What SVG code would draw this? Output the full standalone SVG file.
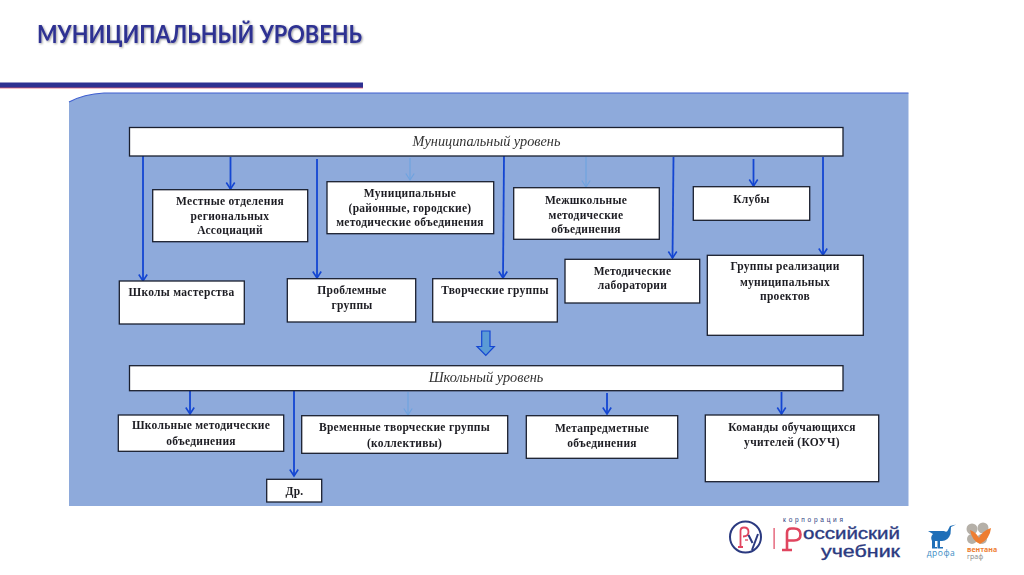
<svg xmlns="http://www.w3.org/2000/svg" width="1024" height="575" viewBox="0 0 1024 575">
<defs>
<style>
.box{fill:#fff;stroke:#1a1f2e;stroke-width:1.3}
.t{font-family:"Liberation Serif",serif;font-weight:bold;font-size:11.5px;fill:#1c1c22;text-anchor:middle;letter-spacing:.28px;filter:url(#soft)}
.i{font-family:"Liberation Serif",serif;font-style:italic;font-size:14.3px;fill:#333;text-anchor:middle;filter:url(#soft)}
.c{fill:none;stroke:#1446d2;stroke-width:1.8;marker-end:url(#a)}
.l{fill:none;stroke:#6fa3e0;stroke-width:1.2;marker-end:url(#b)}
.lg{font-family:"Liberation Sans",sans-serif;fill:#2b3a80}
</style>
<filter id="soft" x="-5%" y="-20%" width="110%" height="140%"><feGaussianBlur stdDeviation="0.3"/></filter>
<filter id="sh" x="-5%" y="-20%" width="110%" height="150%"><feGaussianBlur stdDeviation="0.3" result="s"/><feDropShadow in="s" dx="1" dy="1" stdDeviation="0.8" flood-color="#000" flood-opacity=".4"/></filter>
<marker id="a" markerUnits="userSpaceOnUse" markerWidth="10" markerHeight="12" refX="8" refY="6" orient="auto" viewBox="0 0 10 12"><path d="M1.500 1.800L8 6L1.500 10.200" fill="none" stroke="#1446d2" stroke-width="1.600"/></marker>
<marker id="b" markerUnits="userSpaceOnUse" markerWidth="10" markerHeight="12" refX="8" refY="6" orient="auto" viewBox="0 0 10 12"><path d="M1.500 1.800L8 6L1.500 10.200" fill="none" stroke="#6fa3e0" stroke-width="1.200"/></marker>
</defs>
<rect width="1024" height="575" fill="#fff"/>
<text x="37" y="43" font-family="Lato,Open Sans,sans-serif" font-weight="bold" font-size="24px" fill="#2e3192" filter="url(#sh)" textLength="325" lengthAdjust="spacingAndGlyphs">МУНИЦИПАЛЬНЫЙ УРОВЕНЬ</text>
<rect x="0" y="82.500" width="363" height="5.500" fill="#2e3192"/>
<rect x="0" y="87.600" width="363" height=".8" fill="#e06070"/>
<path d="M69 102 Q84 94 104 93 H908.500 V506 H69Z" fill="#8eaadb"/>
<path d="M69 102 Q84 94 104 93 H908.500" fill="none" stroke="#3f5fd0" stroke-width="1.200"/>

<g id="connectors">
<path class="c" d="M143 156V281"/>
<path class="c" d="M230.500 157V189"/>
<path class="c" d="M317 159V278"/>
<path class="l" d="M410 158V180"/>
<path class="c" d="M504 156L503 278"/>
<path class="l" d="M586 157V187"/>
<path class="c" d="M673.500 157L672.500 258"/>
<path class="c" d="M753.500 159V186"/>
<path class="c" d="M823 157V255"/>
<path class="c" d="M190 391V414"/>
<path class="c" d="M294 391V476"/>
<path class="l" d="M408 392V415"/>
<path class="c" d="M607 393V414"/>
<path class="c" d="M781.500 392V414"/>
</g>

<g id="arrow-down"><path d="M481.700 331H490V346.500H494.300L485.800 355.500L477 346.500H481.700Z" fill="#5b9bd5" stroke="#1446d2" stroke-width="1.200"/></g>

<g id="n-mun"><rect class="box" x="129.500" y="127.500" width="713.500" height="28.500"/><text class="i" x="486.500" y="146">Муниципальный уровень</text></g>
<g id="n-assoc"><rect class="box" x="152.700" y="189.700" width="155" height="52"/><text class="t" x="230" y="205">Местные отделения</text><text class="t" x="230" y="219.500">региональных</text><text class="t" x="230" y="234">Ассоциаций</text></g>
<g id="n-moe"><rect class="box" x="327" y="181.700" width="166.700" height="52"/><text class="t" x="410" y="197">Муниципальные</text><text class="t" x="410" y="211.500">(районные, городские)</text><text class="t" x="410" y="226">методические объединения</text></g>
<g id="n-inter"><rect class="box" x="513.700" y="187.700" width="145.600" height="51.600"/><text class="t" x="586" y="204">Межшкольные</text><text class="t" x="586" y="219">методические</text><text class="t" x="586" y="233">объединения</text></g>
<g id="n-clubs"><rect class="box" x="693.300" y="186.700" width="116.400" height="33.600"/><text class="t" x="751.500" y="202.500">Клубы</text></g>
<g id="n-schools"><rect class="box" x="119.300" y="281" width="125" height="43"/><text class="t" x="181.500" y="296">Школы мастерства</text></g>
<g id="n-problem"><rect class="box" x="287.300" y="278.700" width="128.400" height="43.300"/><text class="t" x="352" y="294">Проблемные</text><text class="t" x="352" y="309">группы</text></g>
<g id="n-creative"><rect class="box" x="432.700" y="278.700" width="124.600" height="43.300"/><text class="t" x="495" y="294">Творческие группы</text></g>
<g id="n-labs"><rect class="box" x="565" y="259.300" width="134.700" height="43.700"/><text class="t" x="632.500" y="275">Методические</text><text class="t" x="632.500" y="289">лаборатории</text></g>
<g id="n-projects"><rect class="box" x="707.300" y="255.300" width="156" height="80"/><text class="t" x="785" y="270">Группы реализации</text><text class="t" x="785" y="286">муниципальных</text><text class="t" x="785" y="300">проектов</text></g>

<g id="n-school"><rect class="box" x="129.500" y="365.700" width="713.500" height="25"/><text class="i" x="486" y="382">Школьный уровень</text></g>
<g id="n-smo"><rect class="box" x="118.300" y="415" width="165.400" height="36.300"/><text class="t" x="201" y="429">Школьные методические</text><text class="t" x="201" y="445">объединения</text></g>
<g id="n-temp"><rect class="box" x="301.700" y="415.700" width="206" height="37.600"/><text class="t" x="404.500" y="431">Временные творческие группы</text><text class="t" x="404.500" y="447">(коллективы)</text></g>
<g id="n-other"><rect class="box" x="266.700" y="479.300" width="55" height="22.700"/><text class="t" x="294.500" y="495">Др.</text></g>
<g id="n-meta"><rect class="box" x="526.300" y="415.700" width="151.400" height="42.600"/><text class="t" x="602" y="432">Метапредметные</text><text class="t" x="602" y="447">объединения</text></g>
<g id="n-coach"><rect class="box" x="705.300" y="415" width="173.400" height="66.700"/><text class="t" x="792" y="431">Команды обучающихся</text><text class="t" x="792" y="446">учителей (КОУЧ)</text></g>

<g id="logo">
<circle cx="745.500" cy="537" r="15.500" fill="none" stroke="#2b3a80" stroke-width="2"/>
<path d="M738 547H743M740.500 547V531Q740.500 527.500 744 527.500Q748.500 527.500 748.500 532Q748.500 536.500 743 536.500" fill="none" stroke="#e0455f" stroke-width="1.800"/>
<path d="M745 540H748" fill="none" stroke="#e0455f" stroke-width="1.300"/>
<path d="M748.500 535L752.500 543M758 534L752 550" fill="none" stroke="#2b3a80" stroke-width="2"/>
<rect x="773.500" y="528" width="1.200" height="21" fill="#e0455f"/>
<text class="lg" x="783" y="522" font-size="6.500px" textLength="60">корпорация</text>
<path d="M782 550H792M787 550V533Q787 528.500 791.500 528.500H794Q800.500 528.500 800.500 534.500Q800.500 540.500 794 540.500H787" fill="none" stroke="#e0455f" stroke-width="2.600"/>
<text class="lg" x="803" y="538.500" font-size="16px" stroke="#2b3a80" stroke-width=".35" textLength="97" lengthAdjust="spacingAndGlyphs">оссийский</text>
<text class="lg" x="821" y="556.500" font-size="16px" stroke="#2b3a80" stroke-width=".35" textLength="79" lengthAdjust="spacingAndGlyphs">учебник</text>
<path d="M928 531H944Q947 533 948 530L950 526L956 524.500L951 527L950.500 534Q948 541 942 541H940V547H943V548.500H937.500V541H935V547H937V548.500H932V541Q930 537 933 534Z" fill="#1f6fb8"/>
<text x="941" y="556" font-family="Open Sans,sans-serif" font-size="8.500px" fill="#3a8cc4" text-anchor="middle" letter-spacing=".5">дрофа</text>
<circle cx="972" cy="529" r="5.500" fill="#b5b0a8"/><circle cx="983" cy="528" r="5.500" fill="#b5b0a8"/><circle cx="972" cy="539" r="5" fill="#b5b0a8"/><circle cx="982" cy="539" r="5" fill="#b5b0a8"/>
<path d="M970 530Q976 532 979 538Q982 531 991 528Q990 539 980 544Q972 541 970 530Z" fill="#ee7d31"/>
<text x="967" y="552" font-family="Open Sans,sans-serif" font-weight="bold" font-size="7px" fill="#ee7d31">вентана</text>
<text x="967" y="559" font-family="Open Sans,sans-serif" font-size="7px" fill="#888">граф</text>
</g>
</svg>
